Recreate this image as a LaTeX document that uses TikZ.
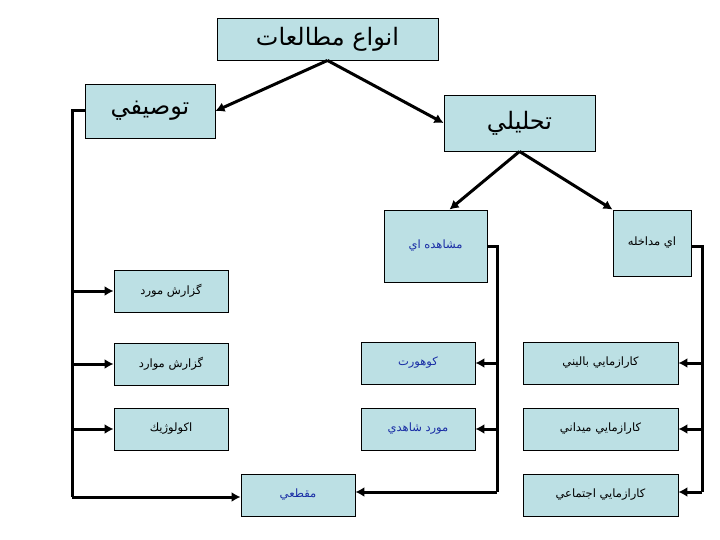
\documentclass[tikz,border=0pt]{standalone}
\usepackage{fontspec}
\usetikzlibrary{arrows.meta,calc}
\TeXXeTstate=1
\newfontfamily\arabicfont[Script=Arabic]{DejaVu Sans}
\definecolor{boxfill}{RGB}{188,224,228}
\definecolor{bluetext}{RGB}{25,45,165}
\tikzset{
  box/.style={draw=black, line width=0.9pt, fill=boxfill, rectangle, inner sep=0pt, anchor=center},
  bigbox/.style={box, font=\arabicfont\fontsize{24}{28}\selectfont},
  smallbox/.style={box, font=\arabicfont\fontsize{11.5}{14}\selectfont, minimum width=114pt, minimum height=42pt},
  conn/.style={line width=3pt, -{Latex[length=9pt,width=10pt]}},
  bar/.style={line width=3pt}
}
\begin{document}
\begin{tikzpicture}[x=1pt,y=-1pt]
\useasboundingbox (0,0) rectangle (720,540);
% top level
\node[bigbox, minimum width=221pt, minimum height=42pt] (title) at (327.5,39) {\beginR انواع مطالعات\endR};
\node[bigbox, minimum width=130pt, minimum height=54pt] (tawsifi) at (150,111) {\beginR توصيفي\endR};
\node[bigbox, minimum width=151pt, minimum height=56pt] (tahlili) at (519.5,123) {\beginR تحليلي\endR};
% second level
\node[smallbox, minimum width=103pt, minimum height=72pt, text=bluetext] (moshahede) at (435.5,246) {\beginR مشاهده اي\endR};
\node[smallbox, minimum width=78pt, minimum height=66pt] (modakhele) at (652,243) {\beginR اي مداخله\endR};
% left column
\node[smallbox] (gm1) at (171,291) {\beginR گزارش مورد\endR};
\node[smallbox] (gm2) at (171,364) {\beginR گزارش موارد\endR};
\node[smallbox] (eco) at (171,429) {\beginR اكولوژيك\endR};
% middle column
\node[smallbox, text=bluetext] (cohort) at (418,363) {\beginR كوهورت\endR};
\node[smallbox, text=bluetext] (casec) at (418,429) {\beginR مورد شاهدي\endR};
\node[smallbox, text=bluetext] (maqtai) at (298,495) {\beginR مقطعي\endR};
% right column
\node[smallbox, minimum width=155pt] (clin) at (600.5,363) {\beginR كارازمايي باليني\endR};
\node[smallbox, minimum width=155pt] (field) at (600.5,429) {\beginR كارازمايي ميداني\endR};
\node[smallbox, minimum width=155pt] (social) at (600.5,495) {\beginR كارازمايي اجتماعي\endR};
% tree arrows
\draw[conn] (title.south) -- (tawsifi.east);
\draw[conn] (title.south) -- (tahlili.west);
\draw[conn] (tahlili.south) -- ([xshift=14pt]moshahede.north);
\draw[conn] (tahlili.south) -- (modakhele.north west);
% left bus
\coordinate (lb) at (72,111);
\coordinate (lbb) at (72,497);
\draw[bar] (tawsifi.west) -- (lb) -- (lbb);
\draw[conn] (lb |- gm1) -- (gm1.west);
\draw[conn] (lb |- gm2) -- (gm2.west);
\draw[conn] (lb |- eco) -- (eco.west);
\draw[conn] (lbb) -- (maqtai.west |- lbb);
% middle bus
\coordinate (mb) at (497,246);
\coordinate (mbb) at (497,492);
\draw[bar] (moshahede.east) -- (mb) -- (mbb);
\draw[conn] (mb |- cohort) -- (cohort.east);
\draw[conn] (mb |- casec) -- (casec.east);
\draw[conn] (mbb) -- (maqtai.east |- mbb);
% right bus
\coordinate (rb) at (702,246);
\coordinate (rbb) at (702,492);
\draw[bar] (modakhele.east |- rb) -- (rb) -- (rbb);
\draw[conn] (rb |- clin) -- (clin.east);
\draw[conn] (rb |- field) -- (field.east);
\draw[conn] (rbb) -- (social.east |- rbb);
\end{tikzpicture}
\end{document}
